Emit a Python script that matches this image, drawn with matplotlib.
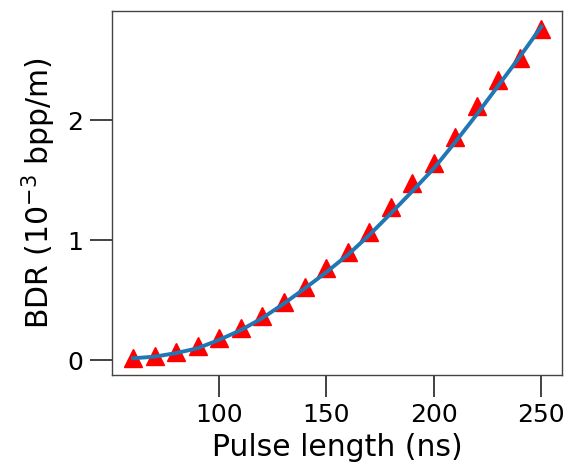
import matplotlib
matplotlib.use("Agg")
import matplotlib.pyplot as plt

pulse_ns = [60, 70, 80, 90, 100, 110, 120, 130, 140, 150,
            160, 170, 180, 190, 200, 210, 220, 230, 240, 250]
bdr_measured = [0.017, 0.036, 0.067, 0.119, 0.183, 0.267, 0.372, 0.483, 0.613, 0.767,
                0.900, 1.072, 1.280, 1.475, 1.642, 1.864, 2.122, 2.336, 2.517, 2.761]
bdr_fit = [0.017, 0.030, 0.060, 0.100, 0.170, 0.250, 0.350, 0.470, 0.600, 0.735,
           0.880, 1.045, 1.225, 1.410, 1.600, 1.820, 2.050, 2.290, 2.530, 2.780]
x_ticks = [100, 150, 200, 250]
y_ticks = [0, 1, 2]

fig = plt.figure(figsize=(5.81, 4.66), dpi=100)
ax = fig.add_axes([0.1928, 0.1953, 0.7745, 0.7817])

ax.plot(pulse_ns, bdr_measured, linestyle='none', marker='^', color='red',
        markersize=13, zorder=2)
ax.plot(pulse_ns, bdr_fit, color='#1f77b4', linewidth=2.8, zorder=3)

ax.set_xlim(50.2, 259.6)
ax.set_ylim(-0.1225, 2.913)
ax.set_xticks(x_ticks)
ax.set_yticks(y_ticks)
ax.tick_params(axis='both', direction='out', length=15.5, width=1.3,
               color='#333333', labelsize=18, pad=5)
for s in ax.spines.values():
    s.set_linewidth(1.0)
    s.set_color('#444444')

ax.set_xlabel('Pulse length (ns)', fontsize=21.5, labelpad=4)
ax.set_ylabel('BDR ($10^{-3}$ bpp/m)', fontsize=21.5, labelpad=7)

fig.savefig('out.png', dpi=100)
